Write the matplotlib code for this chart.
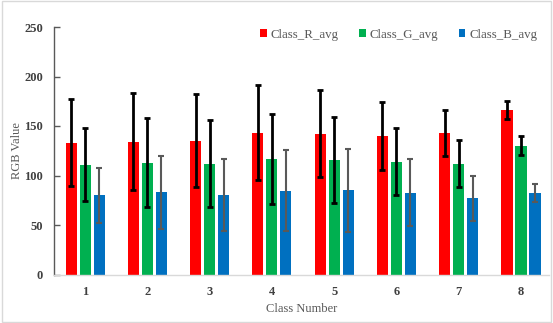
import matplotlib
matplotlib.use("Agg")
import matplotlib.pyplot as plt
import numpy as np
from matplotlib.patches import Rectangle

classes = ["1", "2", "3", "4", "5", "6", "7", "8"]
r_avg = [133, 134, 135, 143, 142, 140, 143, 166]
r_sd = [44, 49, 47, 48, 44, 34, 23, 9]
g_avg = [111, 113, 112, 117, 116, 114, 112, 130]
g_sd = [37, 45, 44, 45.5, 43.5, 34, 23.5, 9.5]
b_avg = [80, 83, 80, 84.5, 85, 82.5, 77, 82.5]
b_sd = [28, 37, 36.5, 41, 42, 34, 23, 9]
series_names = ["Class_R_avg", "Class_G_avg", "Class_B_avg"]

plt.rcParams['font.family'] = ['Liberation Serif', 'DejaVu Serif']

fig = plt.figure(figsize=(5.53, 3.23), dpi=100)
ax = fig.add_axes([54/553, 1-274.5/323, (549-54)/553, (274.5-27)/323])

x = np.arange(len(classes))
w = 0.178
off = 0.225
colors = ["#FF0000", "#00B050", "#0070C0"]
ecolors = ["black", "black", "#595959"]
elw = [2.0, 2.0, 1.5]
for i, (vals, sds) in enumerate([(r_avg, r_sd), (g_avg, g_sd), (b_avg, b_sd)]):
    ax.bar(x + (i-1)*off, vals, width=w, color=colors[i], label=series_names[i],
           yerr=sds, error_kw=dict(ecolor=ecolors[i], elinewidth=elw[i], capsize=2,
                                   capthick=elw[i]), zorder=2)

ax.set_xlim(-0.5, 7.45)
ax.set_ylim(0, 250)
ax.set_yticks([0, 50, 100, 150, 200, 250])
ax.set_xticks(x)
ax.set_xticklabels(classes)
for s in ["top", "right"]:
    ax.spines[s].set_visible(False)
ax.spines["left"].set_color("#595959")
ax.spines["left"].set_linewidth(1.0)
ax.spines["bottom"].set_color("#D9D9D9")
ax.spines["bottom"].set_linewidth(1.0)
ax.tick_params(axis="y", direction="in", length=4, width=1, color="#595959", pad=8,
               labelsize=9, labelcolor="#404040")
ax.tick_params(axis="x", length=0, pad=8, labelsize=9, labelcolor="#404040")
for lab in ax.get_xticklabels() + ax.get_yticklabels():
    lab.set_fontweight("bold")

ax.set_xlabel("Class Number", fontsize=9, color="#595959", labelpad=4)
ax.set_ylabel("RGB Value", fontsize=9, color="#595959", labelpad=1)

leg = ax.legend(loc="upper right", bbox_to_anchor=(1.0, 1.04), ncol=3, frameon=False,
                fontsize=9.3, handlelength=0.5, handleheight=0.5, handletextpad=0.3,
                columnspacing=1.6, labelcolor="#595959")

fig.patches.append(Rectangle((0.003, 0.004), 0.994, 0.992, transform=fig.transFigure,
                             fill=False, edgecolor="#D9D9D9", linewidth=1.0))

fig.savefig("out.png", dpi=100)
